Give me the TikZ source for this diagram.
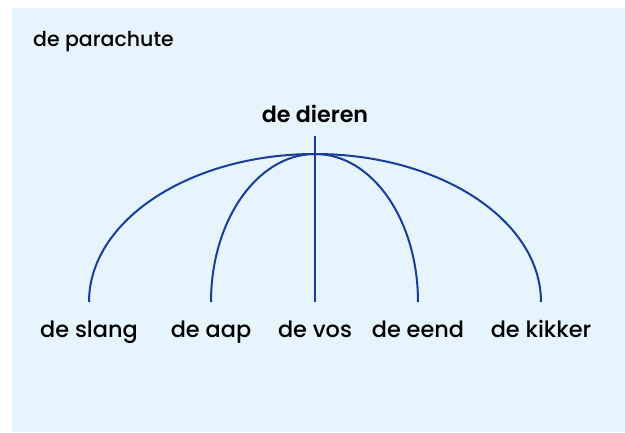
\documentclass[tikz,border=0pt]{standalone}
\usepackage{fontspec}
\setmainfont{Poppins}[UprightFont=* Medium,BoldFont=* SemiBold]
\definecolor{bgblue}{HTML}{E5F4FD}
\definecolor{linkblue}{HTML}{1A3D9A}
\begin{document}
\begin{tikzpicture}[x=1pt,y=-1pt,
  lbl/.style={anchor=base,inner sep=0pt,font=\fontsize{22.4}{25}\selectfont},
  branch/.style={draw=linkblue,line width=2pt}]
\useasboundingbox (0,0) rectangle (625,432);
\fill[bgblue] (12,8) rectangle (625,432);
\node[anchor=base west,inner sep=0pt,font=\fontsize{20.5}{23}\selectfont] (title) at (33,46) {de parachute};
\node[lbl,font=\bfseries\fontsize{22.2}{25}\selectfont] (root) at (315,122) {de dieren};
\coordinate (top) at (315,154);
\coordinate (stem) at (315,136);
\coordinate (e1) at (89,302);
\coordinate (e2) at (211,302);
\coordinate (e3) at (315,302);
\coordinate (e4) at (418,302);
\coordinate (e5) at (541,302);
\node[lbl] (l1) at (89,337) {de slang};
\node[lbl] (l2) at (211,337) {de aap};
\node[lbl] (l3) at (315,337) {de vos};
\node[lbl] (l4) at (418,337) {de eend};
\node[lbl] (l5) at (541,337) {de kikker};
\draw[branch] (top) .. controls +(-124.8,0) and +(0,-81.7) .. (e1);
\draw[branch] (top) .. controls +(-57.4,0) and +(0,-81.7) .. (e2);
\draw[branch] (stem) -- (e3);
\draw[branch] (top) .. controls +(57.4,0) and +(0,-81.7) .. (e4);
\draw[branch] (top) .. controls +(124.8,0) and +(0,-81.7) .. (e5);
\end{tikzpicture}
\end{document}
